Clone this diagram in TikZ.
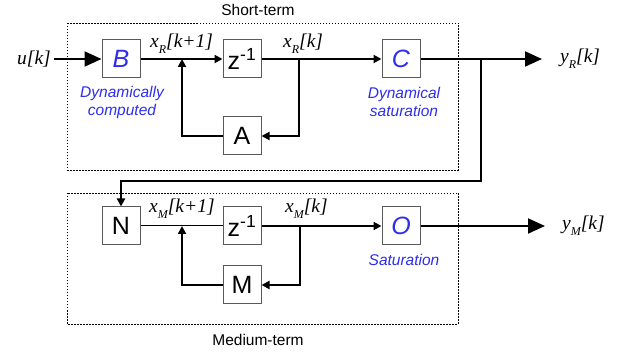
\documentclass[tikz,border=0pt]{standalone}
\usepackage{fontspec}
\setmainfont{Liberation Serif}
\setsansfont{Liberation Sans}
\usetikzlibrary{arrows.meta}
\definecolor{lblue}{RGB}{45,45,235}
\definecolor{boxgray}{RGB}{90,90,90}
\tikzset{
  blk/.style={draw=boxgray, line width=1pt, fill=white, minimum width=38pt, minimum height=38pt, inner sep=0pt, font=\sffamily\fontsize{25}{25}\selectfont},
  bblk/.style={blk, text=lblue, font=\sffamily\itshape\fontsize{25}{25}\selectfont},
  sig/.style={line width=2pt},
  thinsig/.style={line width=1pt},
  sm/.style={-{Triangle[length=8pt,width=8pt]}},
  bigtip/.style={-{Triangle[length=17pt,width=15pt]}},
  dotframe/.style={draw, line width=0.8pt, dash pattern=on 1.5pt off 1.5pt},
  varlbl/.style={font=\itshape\fontsize{19.5}{19.5}\selectfont, inner sep=0pt},
  note/.style={text=lblue, align=center, font=\sffamily\itshape\fontsize{15.5}{18}\selectfont},
  captext/.style={font=\sffamily\fontsize{15.5}{16}\selectfont}
}
\newcommand{\mysub}[1]{\raisebox{-6pt}{\fontsize{12}{12}\selectfont #1}}
\begin{document}
\begin{tikzpicture}[x=1pt,y=-1pt]
\useasboundingbox (0,0) rectangle (626,352);
% frames
\draw[dotframe] (67,23) rectangle (458,170);
\draw[dotframe] (67,193) rectangle (458,324);
\node[captext] (st) at (258,10) {Short-term};
\node[captext] (mt) at (258,340) {Medium-term};
% upper blocks
\node[bblk] (B) at (121,59) {B};
\node[blk] (Z1) at (242,59) {z\textsuperscript{-1}};
\node[blk] (A) at (242,136) {A};
\node[bblk] (C) at (401,59) {C};
% lower blocks
\node[blk] (N) at (121,226) {N};
\node[blk] (Z2) at (242,226) {z\textsuperscript{-1}};
\node[blk] (M) at (242,285) {M};
\node[bblk] (O) at (401,226) {O};
% notes
\node[note] (nB) at (122,102) {Dynamically\\computed};
\node[note] (nC) at (404,102) {Dynamical\\saturation};
\node[note] (nO) at (404,260) {Saturation};
% variables
\node[varlbl, anchor=east] (u) at (51,59) {u[k]};
\node[varlbl, anchor=base west] (xr1) at (150,48) {x\mysub{R}[k+1]};
\node[varlbl, anchor=base west] (xr) at (283,48) {x\mysub{R}[k]};
\node[varlbl, anchor=base west] (xm1) at (149,213) {x\mysub{M}[k+1]};
\node[varlbl, anchor=base west] (xm) at (285,213) {x\mysub{M}[k]};
\node[varlbl, anchor=west] (yr) at (560,59) {y\mysub{R}[k]};
\node[varlbl, anchor=west] (ym) at (562,226) {y\mysub{M}[k]};
% coordinates
\coordinate (jR) at (182,59);
\coordinate (tR) at (299,59);
\coordinate (br) at (481,59);
\coordinate (eR) at (542,59);
\coordinate (jM) at (182,226);
\coordinate (tM) at (300,226);
\coordinate (eM) at (545,226);
\coordinate (bl) at (481,181);
% upper connectors
\draw[sig,bigtip] (u.east) ++(3,0) -- (B.west);
\draw[sig,sm] (B) -- (Z1);
\draw[sig,sm] (Z1) -- (C);
\draw[sig,sm] (tR) |- (A.east);
\draw[sig,sm] (A.west) -| (jR);
\draw[sig,bigtip] (C.east) -- (eR);
\draw[sig,sm] (br) -- (bl) -| (N.north);
% lower connectors
\draw[thinsig] (N) -- (Z2);
\draw[sig,sm] (Z2) -- (O);
\draw[sig,sm] (tM) |- (M.east);
\draw[sig,sm] (M.west) -| (jM);
\draw[sig,bigtip] (O.east) -- (eM);
\end{tikzpicture}
\end{document}
